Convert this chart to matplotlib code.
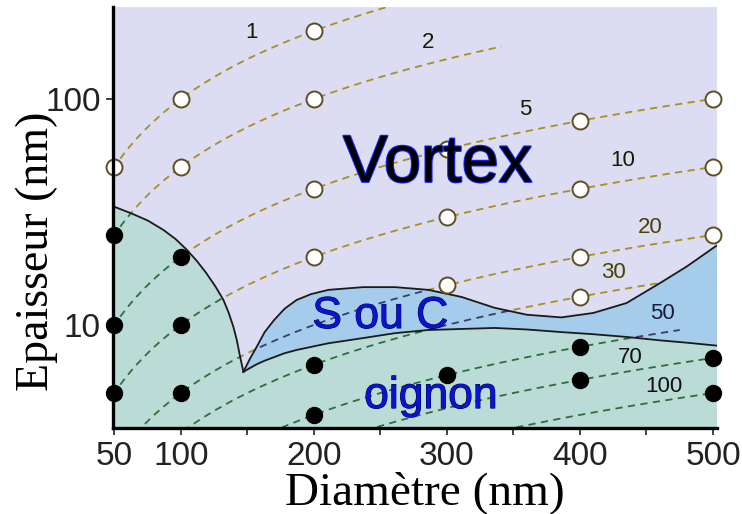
import numpy as np
import matplotlib
matplotlib.use("Agg")
import matplotlib.pyplot as plt
import matplotlib.patheffects as pe
from matplotlib.patches import Polygon
from matplotlib.ticker import FixedLocator, NullLocator, NullFormatter

# --- données ---
# rapports diamètre / épaisseur des courbes en pointillés
ratios = [1, 2, 5, 10, 20, 30, 50, 70, 100]
ratio_d_max = [503, 341, 503, 503, 503, 460, 475, 503, 503]
# position (diamètre) des étiquettes des courbes
ratio_label_d = [153, 286, 359, 432, 453, 425, 462, 438, 463]

# simulations : état vortex (cercles ouverts)
vortex_d = [50, 100, 100, 200, 200, 200, 200, 300, 300, 300, 400, 400, 400, 400, 500, 500, 500]
vortex_t = [50, 100, 50, 200, 100, 40, 20, 60, 30, 15, 80, 40, 20, 13.3, 100, 50, 25]

# simulations : état oignon (cercles pleins)
onion_d = [50, 50, 50, 100, 100, 100, 200, 200, 300, 400, 400, 500, 500]
onion_t = [25, 10, 5, 20, 10, 5, 6.67, 4, 6, 8, 5.7, 7.14, 5]

# frontière oignon / vortex (côté petits diamètres)
left_d = [49, 62, 75, 87, 96, 104.5, 112, 119, 126, 132, 136, 139.5, 142, 144, 147]
left_t = [33.5, 31.3, 29.0, 26.3, 24.0, 21.5, 19.2, 17.0, 14.8, 12.9, 11.3, 9.8, 8.6, 7.5, 6.2]

# domaine S ou C : bornes supérieure et inférieure
sc_d = [147, 152, 157, 163, 170, 178, 187, 198, 211, 237, 261, 286, 311, 336, 360, 386, 410, 435, 460, 480, 503]
sc_upper = [6.2, 7.1, 8.0, 9.3, 10.5, 11.8, 12.9, 13.7, 14.3, 14.7, 14.7, 14.3, 13.3, 11.9, 11.1,
            10.8, 11.3, 12.5, 15.3, 18.1, 22.5]
sc_lower = [6.2, 6.45, 6.7, 6.95, 7.2, 7.5, 7.75, 8.0, 8.3, 8.75, 9.2, 9.5, 9.6, 9.7, 9.55,
            9.3, 9.1, 8.85, 8.55, 8.35, 8.1]

xlim = (49, 503)
ylim = (3.5, 255)

col_vortex = "#dcdcf2"
col_onion = "#badbd6"
col_sc = "#a5cdeb"

fig = plt.figure(figsize=(7.42, 5.14), dpi=100)
ax = fig.add_axes([0.1523, 0.1673, 0.814, 0.819])
ax.set_yscale("log")
ax.set_xlim(*xlim)
ax.set_ylim(*ylim)
ax.set_facecolor(col_vortex)

# courbes d = r * t, dessinées d'abord en doré (zone vortex)
curves = []
for r, dmax in zip(ratios, ratio_d_max):
    d = np.linspace(xlim[0], dmax, 200)
    curves.append((d, d / r))
    ax.plot(d, d / r, color="#a89020", lw=1.3, ls=(0, (4, 3)), zorder=2)

# zones oignon et S ou C
onion_poly = list(zip([xlim[0]] + left_d + sc_d[1:] + [xlim[1]],
                      [ylim[0]] + left_t + sc_lower[1:] + [ylim[0]]))
onion_patch = Polygon(onion_poly, closed=True, facecolor=col_onion, edgecolor="none", zorder=3)
ax.add_patch(onion_patch)

sc_poly = list(zip(sc_d + sc_d[::-1], sc_upper + sc_lower[::-1]))
sc_patch = Polygon(sc_poly, closed=True, facecolor=col_sc, edgecolor="none", zorder=3)
ax.add_patch(sc_patch)

# mêmes courbes, en vert dans l'oignon et en bleu foncé dans S ou C
for d, t in curves:
    l1, = ax.plot(d, t, color="#2f6e3c", lw=1.3, ls=(0, (4, 3)), zorder=4)
    l1.set_clip_path(onion_patch)
    l2, = ax.plot(d, t, color="#3a3a78", lw=1.3, ls=(0, (4, 3)), zorder=4)
    l2.set_clip_path(sc_patch)

# frontières
ax.plot(left_d, left_t, color="#1a1a1a", lw=1.3, zorder=5)
ax.plot(sc_d, sc_upper, color="#1a1a1a", lw=1.3, zorder=5)
ax.plot(sc_d, sc_lower, color="#1a1a1a", lw=1.3, zorder=5)

# points de simulation
ax.plot(vortex_d, vortex_t, ls="none", marker="o", ms=11.5, mfc="white",
        mec="#5e4f22", mew=1.4, zorder=6, clip_on=False)
ax.plot(onion_d, onion_t, ls="none", marker="o", ms=11.5, mfc="black",
        mec="black", zorder=6, clip_on=False)

# étiquettes des courbes
label_colors = ["#1a1a00", "#1a1a00", "#1a1a00", "#1a1a00", "#4a4000", "#4a4000",
                "#1a1a40", "#111111", "#111111"]
label_shift = [1.28, 1.24, 1.25, 1.24, 1.19, 1.21, 1.22, 1.15, 1.15]
for r, ld, c, s in zip(ratios, ratio_label_d, label_colors, label_shift):
    ax.text(ld, ld / r * s, str(r), fontsize=16, color=c, ha="center", va="center",
            family="Liberation Sans", zorder=7)

# noms des domaines
ax.text(293, 43, "Vortex", fontsize=48, family="Liberation Sans", color="black",
        ha="center", va="baseline", zorder=8,
        path_effects=[pe.withStroke(linewidth=1.6, foreground="#1020ff")])
ax.text(250, 9.7, "S ou C", fontsize=32, family="Liberation Sans", color="#0a14d0",
        ha="center", va="baseline", zorder=8,
        path_effects=[pe.withStroke(linewidth=0.8, foreground="#000050")])
ax.text(288, 4.29, "oignon", fontsize=32, family="Liberation Sans", color="#0a14d0",
        ha="center", va="baseline", zorder=8,
        path_effects=[pe.withStroke(linewidth=0.8, foreground="#000050")])

# axes
for side in ["top", "right"]:
    ax.spines[side].set_visible(False)
for side in ["left", "bottom"]:
    ax.spines[side].set_linewidth(2.4)
    ax.spines[side].set_zorder(9)

ax.xaxis.set_major_locator(FixedLocator([50, 100, 200, 300, 400, 500]))
ax.xaxis.set_minor_locator(FixedLocator([150, 250, 350, 450]))
ax.set_xticklabels(["50", "100", "200", "300", "400", "500"])
ax.yaxis.set_major_locator(FixedLocator([10, 100]))
ax.yaxis.set_minor_locator(NullLocator())
ax.yaxis.set_minor_formatter(NullFormatter())
ax.set_yticklabels(["10", "100"])
ax.tick_params(axis="both", which="both", direction="out", length=5, width=1.2,
               labelsize=24, pad=4, colors="#222222")
for lab in ax.get_xticklabels() + ax.get_yticklabels():
    lab.set_family("Liberation Sans")

ax.set_xlabel("Diamètre (nm)", fontsize=34, family="Liberation Serif", va="center")
ax.set_ylabel("Epaisseur (nm)", fontsize=33, family="Liberation Serif", va="center")
ax.xaxis.set_label_coords(0.517, -0.154)
ax.yaxis.set_label_coords(-0.127, 0.42)

fig.savefig("out.png", dpi=100)
plt.close(fig)
